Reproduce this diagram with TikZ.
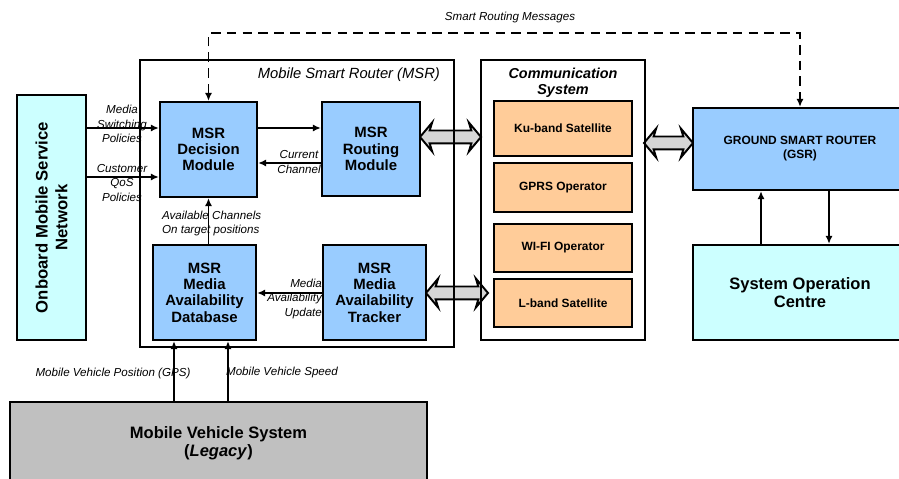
\documentclass[tikz,border=0pt]{standalone}
\usepackage{fontspec}
\setmainfont{Liberation Sans}
\usetikzlibrary{arrows.meta,shapes.arrows}

\definecolor{msrblue}{HTML}{99CCFF}
\definecolor{netcyan}{HTML}{CCFFFF}
\definecolor{oporange}{HTML}{FFCC99}
\definecolor{legacygray}{HTML}{C0C0C0}
\definecolor{linkgray}{HTML}{D6D6D6}

\tikzset{
  module/.style={draw, line width=1.3pt, fill=msrblue, align=center, inner sep=0pt,
    font=\fontsize{8.5}{9.3}\selectfont\bfseries},
  operator/.style={draw, line width=1.3pt, fill=oporange, inner sep=0pt,
    minimum width=2.76cm, font=\fontsize{6.8}{8}\selectfont\bfseries},
  frame/.style={draw, line width=1.3pt, inner sep=0pt},
  tag/.style={align=center, inner sep=1pt, font=\fontsize{6.6}{8.2}\selectfont\itshape},
  flow/.style={line width=1.1pt, -{Latex[length=4.5pt,width=4pt]}},
  link/.style={double arrow, draw, line width=1.1pt, fill=linkgray, inner xsep=0pt,
    inner ysep=0.11cm, double arrow head extend=0.16cm,
    double arrow head indent=0.05cm, double arrow tip angle=100}
}

\begin{document}
\begin{tikzpicture}[x=0.02cm, y=-0.02cm]
    \clip (0,0) rectangle (899,479);
    \fill[white] (0,0) rectangle (899,479);

    \node[link, minimum height=1.22cm] (lnkrout) at (450.5,137) {};
    \node[link, minimum height=1.24cm] (lnktrk) at (457,293) {};
    \node[link, minimum height=0.98cm] (lnkgsr) at (668.5,143) {};

    \node[frame, minimum width=6.28cm, minimum height=5.74cm] (msr) at (297,203.5) {};
    \node[tag, anchor=east, font=\fontsize{8.4}{10}\selectfont\itshape] (msrtitle) at (442,75) {Mobile Smart Router (MSR)};
    \node[frame, minimum width=3.28cm, minimum height=5.6cm] (com) at (563,200) {};
    \node[align=center, inner sep=0pt, font=\fontsize{8.2}{9}\selectfont\bfseries\itshape] (comtitle) at (563,83) {Communication\\System};

    \node[module, fill=netcyan, minimum width=1.38cm, minimum height=4.9cm,
      label={[rotate=90, align=center, font=\fontsize{9.5}{11.3}\selectfont\bfseries]center:Onboard Mobile Service\\Network}] (net) at (51.5,217.5) {};

    \node[module, minimum width=1.94cm, minimum height=1.9cm] (dec) at (208.5,149.5) {MSR\\Decision\\Module};
    \node[module, minimum width=1.96cm, minimum height=1.88cm] (rout) at (371,149) {MSR\\Routing\\Module};
    \node[module, minimum width=2.06cm, minimum height=1.9cm] (db) at (204.5,292.5) {MSR\\Media\\Availability\\Database};
    \node[module, minimum width=2.06cm, minimum height=1.9cm] (trk) at (374.5,292.5) {MSR\\Media\\Availability\\Tracker};

    \node[operator, minimum height=1.1cm] (ku) at (563,128.5) {Ku-band Satellite};
    \node[operator, minimum height=0.98cm] (gprs) at (563,187.5) {GPRS Operator};
    \node[operator, minimum height=0.96cm] (wifi) at (563,248) {WI-FI Operator};
    \node[operator, minimum height=0.96cm] (lband) at (563,303) {L-band Satellite};

    \node[module, minimum width=4.28cm, minimum height=1.64cm, font=\fontsize{6.8}{8}\selectfont\bfseries] (gsr) at (800,149) {GROUND SMART ROUTER\\(GSR)};
    \node[module, fill=netcyan, minimum width=4.28cm, minimum height=1.9cm, font=\fontsize{9.4}{10.4}\selectfont\bfseries] (soc) at (800,292.5) {System Operation\\Centre};
    \node[module, fill=legacygray, minimum width=8.34cm, minimum height=1.64cm, font=\fontsize{9.4}{10.4}\selectfont\bfseries] (mvs) at (218.5,443) {Mobile Vehicle System\\(\textit{Legacy})};

    \coordinate (ridge) at (500,33);
    \draw[flow, {Latex[length=4.5pt,width=4pt]}-{Latex[length=4.5pt,width=4pt]}, dash pattern=on 5.5pt off 3.5pt] (dec.north) |- (ridge) -| (gsr.north);
    \node[tag] (srmsg) at (510,18) {Smart Routing Messages};

    \draw[flow] (net.east |- 0,128) -- (dec.west |- 0,128);
    \draw[flow] (net.east |- 0,177) -- (dec.west |- 0,177);
    \node[tag] (swpol) at (122,124) {Media\\Switching\\Policies};
    \node[tag] (qospol) at (122,183) {Customer\\QoS\\Policies};

    \draw[flow] (dec.east |- 0,128) -- (rout.west |- 0,128);
    \draw[flow] (rout.west |- 0,163) -- (dec.east |- 0,163);
    \node[tag] (curch) at (299,162) {Current\\Channel};

    \draw[flow] (dec.south |- db.north) -- (dec.south);
    \node[tag, anchor=west, align=left] (avch) at (160,223.5) {Available Channels\\On target positions};

    \draw[flow] (trk.west |- 0,293) -- (db.east |- 0,293);
    \node[tag, anchor=east, align=right] (mau) at (324,299) {Media\\Availability\\Update};

    \draw[flow] (174,0 |- mvs.north) -- (174,0 |- db.south);
    \draw[flow] (228,0 |- mvs.north) -- (228,0 |- db.south);
    \node[tag] (gpspos) at (113,373) {Mobile Vehicle Position (GPS)};
    \node[tag] (vspeed) at (282,373) {Mobile Vehicle Speed};

    \draw[flow] (761,0 |- soc.north) -- (761,0 |- gsr.south);
    \draw[flow] (829,0 |- gsr.south) -- (829,0 |- soc.north);
\end{tikzpicture}
\end{document}
